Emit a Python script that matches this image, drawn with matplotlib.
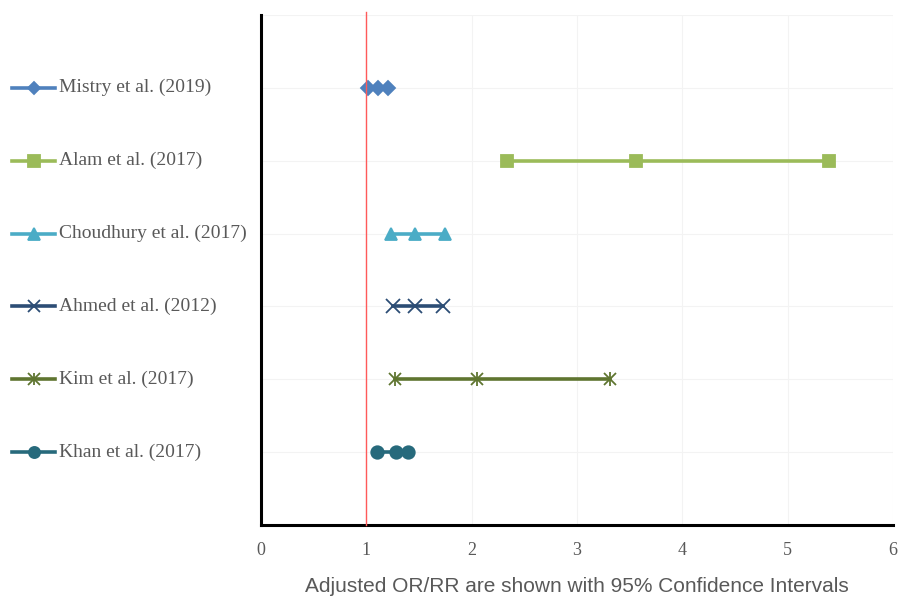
import matplotlib.pyplot as plt
import matplotlib.transforms as mtransforms

# studies, top to bottom
studies = ["Mistry et al. (2019)", "Alam et al. (2017)", "Choudhury et al. (2017)",
           "Ahmed et al. (2012)", "Kim et al. (2017)", "Khan et al. (2017)"]
lower = [1.02, 2.34, 1.23, 1.25, 1.27, 1.10]
estimate = [1.11, 3.56, 1.46, 1.46, 2.05, 1.28]
upper = [1.21, 5.39, 1.75, 1.73, 3.31, 1.40]
rows = [6, 5, 4, 3, 2, 1]

colors = ["#4f81bd", "#9bbb59", "#4bacc6", "#2c4d75", "#5f7530", "#276a7c"]
markers = ["D", "s", "^", "x", "x", "o"]
msizes = [7, 9, 9, 10, 9, 9]

fig = plt.figure(figsize=(9.1, 5.98), dpi=100)
ax = fig.add_axes([0.2868, 0.122, 0.6945, 0.853])
ax.set_xlim(0, 6)
ax.set_ylim(0, 7)

for i in range(len(studies)):
    xs = [lower[i], estimate[i], upper[i]]
    ys = [rows[i]] * 3
    ax.plot(xs, ys, color=colors[i], lw=2.6, marker=markers[i], ms=msizes[i],
            mew=1.3, zorder=3, clip_on=False)
    if i == 4:
        ax.plot(xs, ys, ls="none", color=colors[i], marker="|", ms=10, mew=1.3, zorder=3)

# reference line at 1
ax.axvline(1, color="#ff5a5a", lw=1.0, ymax=1.005, clip_on=False, zorder=4)

# grid
ax.set_xticks(range(7))
ax.set_yticks(range(8))
ax.grid(True, color="#f3f3f3", lw=0.8)
ax.set_axisbelow(True)
ax.set_yticklabels([])
ax.tick_params(axis="y", length=0)
ax.tick_params(axis="x", length=0, pad=12, labelsize=13, labelcolor="#595959")
for lab in ax.get_xticklabels():
    lab.set_family("Liberation Serif")

for s in ["top", "right"]:
    ax.spines[s].set_visible(False)
ax.spines["left"].set_linewidth(2.2)
ax.spines["bottom"].set_linewidth(2.2)

ax.set_xlabel("Adjusted OR/RR are shown with 95% Confidence Intervals",
              fontsize=15, color="#595959", family="Liberation Sans", labelpad=13)

# labels on the left, drawn like legend entries
trans = mtransforms.blended_transform_factory(fig.transFigure, ax.transData)
x0, x1 = 12 / 910, 55 / 910
for i in range(len(studies)):
    ax.plot([x0, x1], [rows[i], rows[i]], color=colors[i], lw=2.6, transform=trans,
            clip_on=False)
    ax.plot([(x0 + x1) / 2], [rows[i]], color=colors[i], marker=markers[i],
            ms=msizes[i] - 1, mew=1.3, transform=trans, clip_on=False)
    if i == 4:
        ax.plot([(x0 + x1) / 2], [rows[i]], color=colors[i], marker="|", ms=9,
                mew=1.3, transform=trans, clip_on=False)
    ax.text(59 / 910, rows[i], studies[i], transform=trans, va="center", ha="left",
            fontsize=14, color="#595959", family="Liberation Serif")

fig.savefig("out.png", dpi=100)
